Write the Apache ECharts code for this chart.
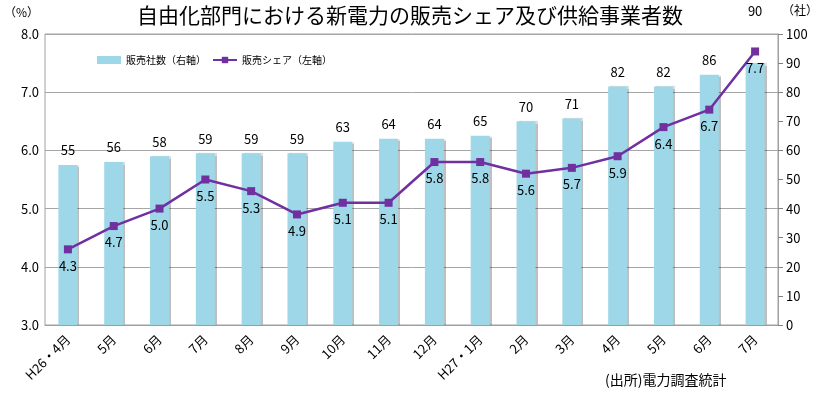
<!DOCTYPE html>
<html><head><meta charset="utf-8">
<script src="https://cdn.jsdelivr.net/npm/echarts@6/dist/echarts.min.js"></script>
<style>html,body{margin:0;padding:0;background:#fff}#c{width:820px;height:395px}</style>
</head><body><div id="c"></div>
<script>
const categories = ['H26・4月','5月','6月','7月','8月','9月','10月','11月','12月','H27・1月','2月','3月','4月','5月','6月','7月'];
const companies = [55,56,58,59,59,59,63,64,64,65,70,71,82,82,86,90];
const share = [4.3,4.7,5.0,5.5,5.3,4.9,5.1,5.1,5.8,5.8,5.6,5.7,5.9,6.4,6.7,7.7];
const leftTicks = ['3.0','4.0','5.0','6.0','7.0','8.0'];

const font = '"Noto Sans CJK JP", "Noto Sans", sans-serif';
const chart = echarts.init(document.getElementById('c'));
chart.setOption({
  animation: false,
  textStyle: {fontFamily: font},
  title: {text: '自由化部門における新電力の販売シェア及び供給事業者数', left: 'center', top: 0,
    textStyle: {fontSize: 21, fontWeight: 'normal', color: '#000', fontFamily: font}},
  graphic: [
    {type: 'text', left: 4, top: 6, style: {text: '（%）', fontSize: 12, fill: '#000', fontFamily: font}},
    {type: 'text', left: 782, top: 4, style: {text: '（社）', fontSize: 12, fill: '#000', fontFamily: font}},
    {type: 'text', left: 605, top: 373, style: {text: '(出所)電力調査統計', fontSize: 14, fill: '#000', fontFamily: font}},
    {type: 'rect', shape: {x: 45, y: 34, width: 733, height: 291}, style: {fill: 'none', stroke: '#a0a0a0', lineWidth: 1}, z: 0}
  ],
  legend: {left: 92, top: 50, itemGap: 6, itemWidth: 24, itemHeight: 8,
    textStyle: {fontSize: 10, color: '#000', fontFamily: font},
    data: [{name: '販売社数（右軸）', icon: 'rect'}, {name: '販売シェア（左軸）'}]},
  grid: {left: 45, right: 42, top: 34, bottom: 70},
  xAxis: {type: 'category', data: categories,
    axisLine: {lineStyle: {color: '#a0a0a0'}}, axisTick: {show: false},
    axisLabel: {rotate: 45, fontSize: 13, color: '#000', margin: 12, interval: 0, fontFamily: font}},
  yAxis: [
    {type: 'value', min: 3, max: 8, interval: 1, position: 'left',
      axisLine: {show: false}, axisTick: {show: false},
      axisLabel: {fontSize: 13, color: '#000', margin: 6, formatter: v => leftTicks[Math.round(v - 3)], fontFamily: font},
      splitLine: {lineStyle: {color: '#a6a6a6'}}},
    {type: 'value', min: 0, max: 100, interval: 10, position: 'right',
      axisLine: {show: true, lineStyle: {color: '#a0a0a0'}},
      axisTick: {show: true, length: 5, lineStyle: {color: '#808080'}},
      axisLabel: {fontSize: 13, color: '#000', margin: 8, fontFamily: font},
      splitLine: {show: false}}
  ],
  series: [
    {name: '販売社数（右軸）', type: 'bar', yAxisIndex: 1, barWidth: 19,
      itemStyle: {color: '#9dd7e8', shadowColor: 'rgba(0,0,0,0.25)', shadowOffsetX: 2, shadowBlur: 1},
      label: {show: true, position: 'top', fontSize: 13, color: '#000', distance: 8, fontFamily: font},
      data: companies.map((v, i) => i === companies.length - 1 ? {value: v, label: {offset: [0, -38]}} : v)},
    {name: '販売シェア（左軸）', type: 'line', yAxisIndex: 0,
      symbol: 'rect', symbolSize: 8,
      lineStyle: {color: '#7030a0', width: 2.5}, itemStyle: {color: '#7030a0'},
      label: {show: true, position: 'bottom', fontSize: 13, color: '#000', distance: 6, fontFamily: font,
        formatter: p => Number(p.value).toFixed(1)},
      data: share, z: 5}
  ]
});
</script></body></html>
